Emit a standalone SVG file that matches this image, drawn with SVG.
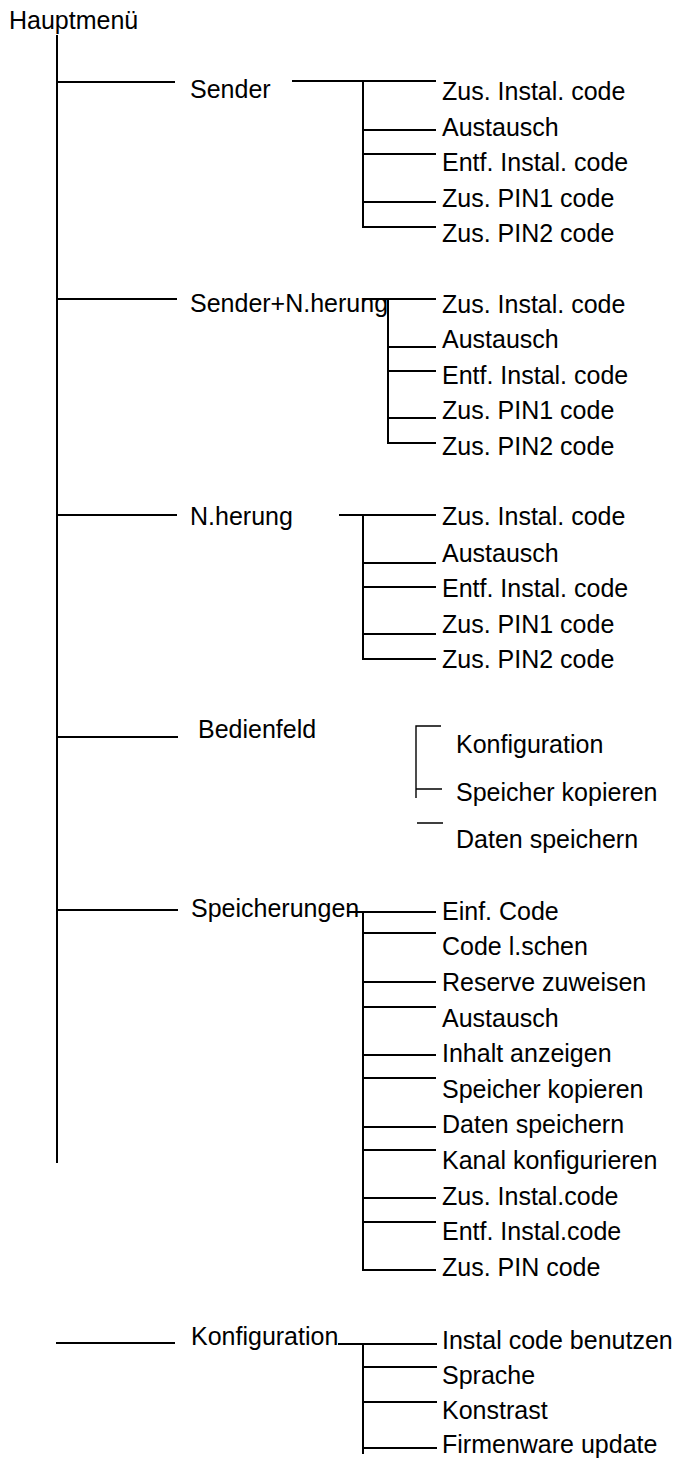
<svg xmlns="http://www.w3.org/2000/svg" width="678" height="1459" viewBox="0 0 678 1459">
<style>
text{font-family:"Liberation Sans",Arial,sans-serif;font-size:25px;fill:#000}
.c{stroke:#000;stroke-width:2;fill:none}
.t{stroke:#000;stroke-width:1.4;fill:none}
</style>
<rect width="678" height="1459" fill="#fff"/>
<g id="connectors">
<path class="c" d="M57 35V1163"/>
<path class="c" d="M57 82H175M57 299H177M57 515H177M57 737H178M57 910H178M56 1343H175"/>
<path class="c" d="M292 81H436M363 81V227H436M363 130H436M363 154H436M363 202H436"/>
<path class="c" d="M363 299H436M388 299V443H436M388 347H436M388 371H436M388 418H436"/>
<path class="c" d="M339 515H436M363 515V659H436M363 563H436M363 587H436M363 634H436"/>
<path class="t" d="M441 726H416V798M416 789H442M417 823H443"/>
<path class="c" d="M347 912H436M363 912V1270H436M363 933H436M363 982H436M363 1007H436M363 1055H436M363 1078H436M363 1127H436M363 1150H436M363 1198H436M363 1222H436"/>
<path class="c" d="M338 1344H437M363 1344V1454M363 1367H437M363 1402H437M363 1448H437"/>
</g>
<g id="hauptmenu"><text x="9" y="29">Hauptmenü</text></g>
<g id="sender"><text x="190" y="98">Sender</text></g>
<g id="sender-items">
<text x="442" y="100">Zus. Instal. code</text>
<text x="442" y="136">Austausch</text>
<text x="442" y="171">Entf. Instal. code</text>
<text x="442" y="207">Zus. PIN1 code</text>
<text x="442" y="242">Zus. PIN2 code</text>
</g>
<g id="sender-naeherung"><text x="190" y="312">Sender+N.herung</text></g>
<g id="sender-naeherung-items">
<text x="442" y="313">Zus. Instal. code</text>
<text x="442" y="348">Austausch</text>
<text x="442" y="384">Entf. Instal. code</text>
<text x="442" y="419">Zus. PIN1 code</text>
<text x="442" y="455">Zus. PIN2 code</text>
</g>
<g id="naeherung"><text x="190" y="525">N.herung</text></g>
<g id="naeherung-items">
<text x="442" y="525">Zus. Instal. code</text>
<text x="442" y="562">Austausch</text>
<text x="442" y="597">Entf. Instal. code</text>
<text x="442" y="633">Zus. PIN1 code</text>
<text x="442" y="668">Zus. PIN2 code</text>
</g>
<g id="bedienfeld"><text x="198" y="738">Bedienfeld</text></g>
<g id="bedienfeld-items">
<text x="456" y="753">Konfiguration</text>
<text x="456" y="801">Speicher kopieren</text>
<text x="456" y="848">Daten speichern</text>
</g>
<g id="speicherungen"><text x="191" y="917">Speicherungen</text></g>
<g id="speicherungen-items">
<text x="442" y="920">Einf. Code</text>
<text x="442" y="955">Code l.schen</text>
<text x="442" y="991">Reserve zuweisen</text>
<text x="442" y="1027">Austausch</text>
<text x="442" y="1062">Inhalt anzeigen</text>
<text x="442" y="1098">Speicher kopieren</text>
<text x="442" y="1133">Daten speichern</text>
<text x="442" y="1169">Kanal konfigurieren</text>
<text x="442" y="1205">Zus. Instal.code</text>
<text x="442" y="1240">Entf. Instal.code</text>
<text x="442" y="1276">Zus. PIN code</text>
</g>
<g id="konfiguration"><text x="191" y="1345">Konfiguration</text></g>
<g id="konfiguration-items">
<text x="442" y="1349">Instal code benutzen</text>
<text x="442" y="1384">Sprache</text>
<text x="442" y="1419">Konstrast</text>
<text x="442" y="1453">Firmenware update</text>
</g>
</svg>
